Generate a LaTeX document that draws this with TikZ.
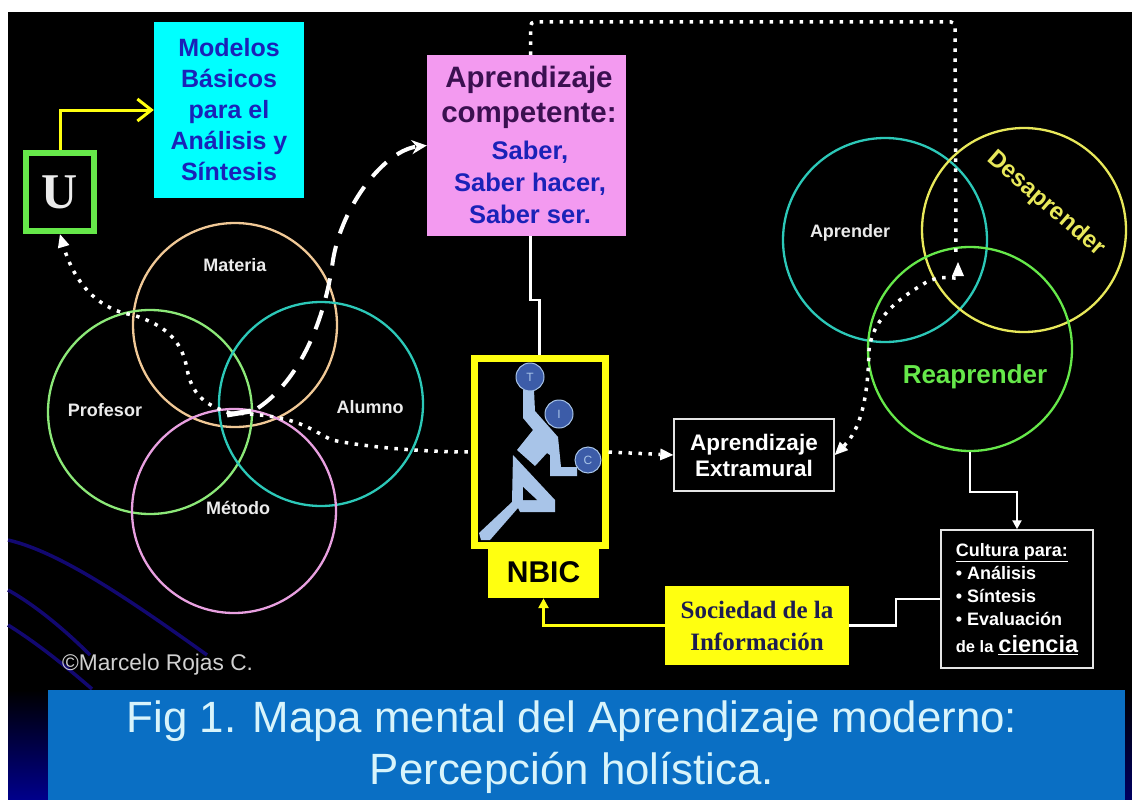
\documentclass[tikz,border=0pt]{standalone}
\usepackage{fontspec}
\setmainfont{Liberation Sans}
\newfontfamily\serifface{Liberation Serif}
\usetikzlibrary{arrows.meta}
\definecolor{navyline}{HTML}{120870}
\definecolor{navydeep}{HTML}{00008C}
\definecolor{barblue}{HTML}{0A6FC4}
\definecolor{capt}{HTML}{D8F4FB}
\definecolor{cyanbox}{HTML}{00FFFF}
\definecolor{pinkbox}{HTML}{F39AF0}
\definecolor{inkblue}{HTML}{1A22B8}
\definecolor{inkpurple}{HTML}{3A1050}
\definecolor{sockink}{HTML}{1C1C50}
\definecolor{yel}{HTML}{FFFF10}
\definecolor{lgreen}{HTML}{66E84A}
\definecolor{peach}{HTML}{F0C896}
\definecolor{ringgreen}{HTML}{8CE878}
\definecolor{ringteal}{HTML}{2CC8B8}
\definecolor{ringpink}{HTML}{E8A0E0}
\definecolor{ringyel}{HTML}{E8E85A}
\definecolor{figblue}{HTML}{A8C4E8}
\definecolor{ballblue}{HTML}{3C5CA8}
\tikzset{
 every node/.style={inner sep=0pt},
 ring/.style={circle,line width=2.3pt,draw=#1,minimum size=204pt},
 lab/.style={font=\bfseries\fontsize{18}{20}\selectfont,text=white!92!black},
 dotline/.style={draw=white,line width=3.5pt,dash pattern=on 3.5pt off 6.5pt},
 dottip/.style={-{Triangle[length=13pt,width=12pt,fill=white,line width=0pt]}},
 conn/.style={draw=white,line width=2.5pt},
 ball/.style={circle,fill=ballblue,draw=figblue,line width=1pt,minimum size=#1,text=figblue,font=\fontsize{12}{12}\selectfont}
}
\begin{document}
\begin{tikzpicture}[x=1pt,y=-1pt]
\useasboundingbox (0,0) rectangle (1132,800);
\fill[white] (0,0) rectangle (1132,800);
\fill[black] (8,12) rectangle (1132,800);
\shade[top color=black,bottom color=navydeep] (8,690) rectangle (48,800);
\shade[top color=black,bottom color=navydeep!70!black] (1125,690) rectangle (1132,800);
\draw[navyline,line width=3.5pt] (8,540) .. controls (60,552) and (130,600) .. (207,655);
\draw[navyline,line width=3.5pt] (8,590) .. controls (35,605) and (65,630) .. (90,655);
\draw[navyline,line width=3.5pt] (8,625) .. controls (40,645) and (70,670) .. (92,689);
\fill[barblue] (48,690) rectangle (1125,800);
% captions
\node[text=capt,font=\fontsize{43.8}{52}\selectfont,align=center] (cap) at (572,747) {Fig 1. Mapa mental del Aprendizaje moderno:\\Percepción holística.};
\node[text=white!82!black,font=\fontsize{22.7}{24}\selectfont,anchor=west] (copy) at (62,665) {©Marcelo Rojas C.};
% left rings
\node[ring=peach] (rM) at (235,325) {};
\node[ring=ringgreen] (rP) at (150,412) {};
\node[ring=ringteal] (rA) at (321,404) {};
\node[ring=ringpink] (rT) at (234,511) {};
\node[lab] (materia) at (235,265) {Materia};
\node[lab] (profesor) at (105,410) {Profesor};
\node[lab] (alumno) at (370,407) {Alumno};
\node[lab] (metodo) at (238,508) {Método};
% right rings
\node[ring=ringteal] (cA) at (885,240) {};
\node[ring=ringyel] (cD) at (1024,230) {};
\node[ring=lgreen] (cR) at (970,349) {};
\node[lab] (aprender) at (850,233) {Aprender};
\node[text=ringyel,font=\bfseries\fontsize{24}{26}\selectfont,rotate=-41] (desap) at (1046,204) {Desaprender};
\node[text=lgreen,font=\bfseries\fontsize{26}{28}\selectfont] (reap) at (975,377) {Reaprender};
% boxes
\node[fill=cyanbox,text=inkblue,minimum width=150pt,minimum height=175pt,font=\bfseries\fontsize{25}{31}\selectfont,align=center] (modelos) at (229,110) {Modelos\\Básicos\\para el\\Análisis y\\Síntesis};
\node[draw=lgreen,line width=6.5pt,minimum width=68pt,minimum height=78pt,font=\serifface\bfseries\fontsize{50}{50}\selectfont,text=white!92!black] (u) at (60,192) {U};
\node[fill=pinkbox,minimum width=199pt,minimum height=181pt] (comp) at (526.5,145.5) {};
\node[font=\bfseries\fontsize{29.5}{35}\selectfont,text=inkpurple,align=center] (comp1) at (529,97) {Aprendizaje\\competente:};
\node[font=\bfseries\fontsize{25.5}{32}\selectfont,text=inkblue,align=center] (comp2) at (530,182) {Saber,\\Saber hacer,\\Saber ser.};
\node[draw=yel,line width=7pt,minimum width=131pt,minimum height=187pt] (fig) at (539.5,452) {};
\node[fill=yel,minimum width=111pt,minimum height=51pt,font=\bfseries\fontsize{30}{32}\selectfont,text=black] (nbic) at (543.5,572.5) {NBIC};
\node[draw=white!90!black,line width=1.5pt,minimum width=160pt,minimum height=72pt,align=center,font=\bfseries\fontsize{22.5}{26}\selectfont,text=white] (extra) at (754,455) {Aprendizaje\\Extramural};
\node[fill=yel,minimum width=184pt,minimum height=79pt,align=center,font=\serifface\bfseries\fontsize{25}{32}\selectfont,text=sockink] (soc) at (757,625.5) {Sociedad de la\\Información};
\node[draw=white!90!black,line width=1.5pt,minimum width=152pt,minimum height=138pt,font=\bfseries\fontsize{18}{23}\selectfont,text=white,align=left] (cult) at (1017,599) {\underline{Cultura para:}\\• Análisis\\• Síntesis\\• Evaluación\\[4pt]{\fontsize{16.5}{23}\selectfont de la} {\fontsize{23.5}{23}\selectfont\underline{ciencia}}};
% figure
\fill[figblue] (523,390) -- (523,418) -- (533,430) -- (517,450) -- (535,466) -- (547,453) -- (550,455) -- (550,476) -- (577,476) -- (577,467) -- (561,467) -- (558,437) -- (535,411) -- (534,390) -- cycle;
\fill[figblue] (513,455) -- (555,500) -- (555,512) -- (520,512) -- (518,508) -- (490,540) -- (481,540) -- (479,533) -- (512,502) -- cycle;
\fill[black] (523,487) -- (537,500) -- (523,500) -- cycle;
\node[ball=28pt] (t) at (530,377) {T};
\node[ball=28pt] (i) at (559,414) {I};
\node[ball=26pt] (c) at (588,460) {C};
% connectors
\coordinate (hub) at (230,413);
\coordinate (hubR) at (258,408);
\coordinate (topC) at (955,22);
\coordinate (A) at (958,262);
\coordinate (A2) at (956,258);
\draw[draw=yel,line width=3pt,-{Straight Barb[length=14pt,width=22pt]}] (u.north) |- (modelos.west);
\draw[conn] ([xshift=4pt]comp.south) -- ++(0,64) -| (fig.north);
\draw[conn,-{Triangle[length=9pt,width=9pt]}] (cR.south) -- ++(0,40) -| (cult.north);
\draw[conn] (soc.east) -- ++(47,0) |- (cult.west);
\draw[draw=yel,line width=2.5pt,-{Triangle[length=10pt,width=10pt]}] (soc.west) -| (nbic.south);
\draw[dotline] (hub) .. controls (300,415) and (310,430) .. (332,440) .. controls (370,448) and (430,452) .. (fig.west);
\draw[dotline,dottip] (hub) .. controls (205,405) and (192,395) .. (187,369) .. controls (182,340) and (165,325) .. (133,315) .. controls (100,310) and (75,285) .. (u.south);
\draw[dotline,dottip] (fig.east) -- (extra.west);
\draw[draw=white,line width=5pt] (227,415) -- (251,411);
\draw[draw=white,line width=4pt,dash pattern=on 20pt off 13pt,-{Stealth[length=15pt,width=14pt]}] (hubR) .. controls (300,380) and (325,320) .. (333,260) .. controls (342,205) and (385,150) .. (comp.west);
\draw[dotline,rounded corners=4pt] ([xshift=4pt]comp.north) |- (topC) -- (A2);
\draw[dotline,{Triangle[length=13pt,width=12pt,fill=white,line width=0pt]}-{Triangle[length=14pt,width=12pt,fill=white,line width=0pt]}] (extra.east) .. controls (860,430) and (868,400) .. (869,350) .. controls (873,315) and (905,295) .. (925,283) .. controls (945,272) and (958,282) .. (A);
\end{tikzpicture}
\end{document}
